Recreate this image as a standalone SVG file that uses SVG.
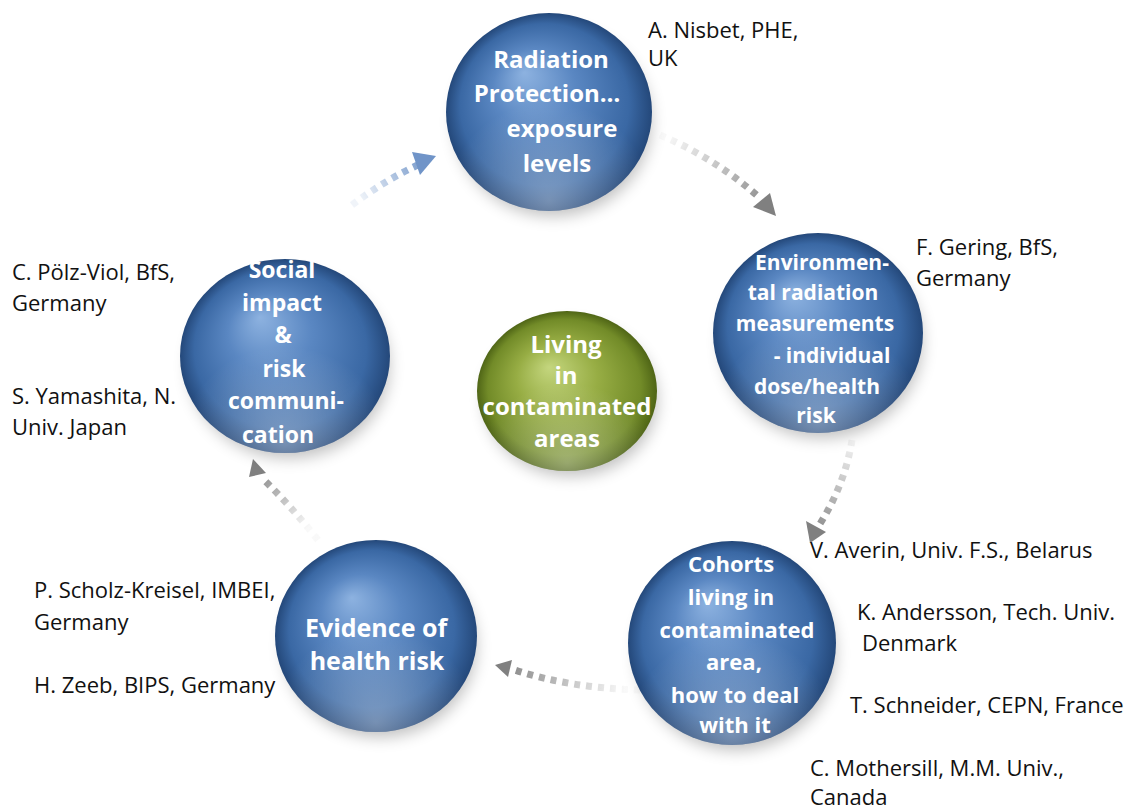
<svg xmlns="http://www.w3.org/2000/svg" width="1133" height="809" viewBox="0 0 1133 809">
<defs>
<radialGradient id="blue" cx="0.5" cy="0.5" r="0.5" fx="0.38" fy="0.3">
<stop offset="0" stop-color="#8db2e0"/>
<stop offset="0.4" stop-color="#5a87c2"/>
<stop offset="0.82" stop-color="#3a68a4"/>
<stop offset="1" stop-color="#24487a"/>
</radialGradient>
<radialGradient id="green" cx="0.5" cy="0.5" r="0.5" fx="0.4" fy="0.35">
<stop offset="0" stop-color="#c4d67e"/>
<stop offset="0.45" stop-color="#97ad44"/>
<stop offset="0.85" stop-color="#728b28"/>
<stop offset="1" stop-color="#4f6516"/>
</radialGradient>
<radialGradient id="glow" cx="0.5" cy="0.95" r="0.5">
<stop offset="0" stop-color="#ffffff" stop-opacity="0.35"/>
<stop offset="1" stop-color="#ffffff" stop-opacity="0"/>
</radialGradient>
<filter id="sh" x="-30%" y="-30%" width="160%" height="170%">
<feGaussianBlur stdDeviation="8"/>
</filter>
<filter id="bl" x="-20%" y="-20%" width="140%" height="140%">
<feGaussianBlur stdDeviation="0.6"/>
</filter>
<linearGradient id="a1" gradientUnits="userSpaceOnUse" x1="360" y1="200" x2="430" y2="160">
<stop offset="0" stop-color="#6f94c8" stop-opacity="0.1"/>
<stop offset="1" stop-color="#6f94c8" stop-opacity="1"/>
</linearGradient>
<linearGradient id="a2" gradientUnits="userSpaceOnUse" x1="665" y1="138" x2="770" y2="210">
<stop offset="0" stop-color="#888" stop-opacity="0.05"/>
<stop offset="1" stop-color="#888" stop-opacity="1"/>
</linearGradient>
<linearGradient id="a3" gradientUnits="userSpaceOnUse" x1="848" y1="435" x2="815" y2="535">
<stop offset="0" stop-color="#888" stop-opacity="0.05"/>
<stop offset="1" stop-color="#888" stop-opacity="1"/>
</linearGradient>
<linearGradient id="a4" gradientUnits="userSpaceOnUse" x1="625" y1="688" x2="505" y2="668">
<stop offset="0" stop-color="#888" stop-opacity="0.05"/>
<stop offset="1" stop-color="#888" stop-opacity="1"/>
</linearGradient>
<linearGradient id="a5" gradientUnits="userSpaceOnUse" x1="305" y1="530" x2="258" y2="470">
<stop offset="0" stop-color="#888" stop-opacity="0.05"/>
<stop offset="1" stop-color="#888" stop-opacity="1"/>
</linearGradient>
<style>
.ball{font-family:"Open Sans","Liberation Sans",sans-serif;font-weight:bold;fill:#ffffff;text-anchor:middle}
.lab{font-family:"Open Sans","Liberation Sans",sans-serif;font-size:22px;fill:#111}
.dots{fill:none;stroke-width:7;stroke-dasharray:6 6}
.shadow{fill:#000;opacity:0.25}
</style>
</defs>
<rect width="1133" height="809" fill="#ffffff"/>

<g id="connectors" filter="url(#bl)">
<path class="dots" stroke="url(#a1)" d="M352,205 Q385,180 418,165"/>
<polygon points="412,152 436,156 420,175" fill="#6f94c8"/>
<path class="dots" stroke="url(#a2)" d="M660,135 Q715,158 760,198"/>
<polygon points="753,207 770,193 776,216" fill="#808080"/>
<path class="dots" stroke="url(#a3)" d="M852,440 Q845,485 818,527"/>
<polygon points="806,521 826,532 810,543" fill="#808080"/>
<path class="dots" stroke="url(#a4)" d="M640,690 Q570,688 515,670"/>
<polygon points="495,665 512,660 508,677" fill="#808080"/>
<path class="dots" stroke="url(#a5)" d="M318,540 Q290,505 262,478"/>
<polygon points="253,459 266,473 249,477" fill="#808080"/>
</g>

<g id="n-radiation">
<ellipse class="shadow" cx="553" cy="122" rx="98" ry="94" filter="url(#sh)"/>
<ellipse cx="549" cy="112" rx="103" ry="99" fill="url(#blue)"/>
<ellipse cx="549" cy="112" rx="103" ry="99" fill="url(#glow)"/>
<text class="ball" font-size="24"><tspan x="551" y="68">Radiation</tspan><tspan x="547" y="102">Protection…</tspan><tspan x="562" y="137">exposure</tspan><tspan x="557" y="172">levels</tspan></text>
</g>

<g id="n-environmental">
<ellipse class="shadow" cx="822" cy="343" rx="100" ry="95" filter="url(#sh)"/>
<ellipse cx="818" cy="333" rx="105" ry="100" fill="url(#blue)"/>
<ellipse cx="818" cy="333" rx="105" ry="100" fill="url(#glow)"/>
<text class="ball" font-size="21"><tspan x="822" y="270">Environmen-</tspan><tspan x="813" y="300">tal radiation</tspan><tspan x="815" y="331">measurements</tspan><tspan x="832" y="363">- individual</tspan><tspan x="817" y="394">dose/health</tspan><tspan x="816" y="423">risk</tspan></text>
</g>

<g id="n-cohorts">
<ellipse class="shadow" cx="736" cy="653" rx="99" ry="97" filter="url(#sh)"/>
<ellipse cx="732" cy="643" rx="104" ry="102" fill="url(#blue)"/>
<ellipse cx="732" cy="643" rx="104" ry="102" fill="url(#glow)"/>
<text class="ball" font-size="22"><tspan x="731" y="572">Cohorts</tspan><tspan x="731" y="605">living in</tspan><tspan x="737" y="638">contaminated</tspan><tspan x="734" y="670">area,</tspan><tspan x="735" y="703">how to deal</tspan><tspan x="735" y="733">with it</tspan></text>
</g>

<g id="n-evidence">
<ellipse class="shadow" cx="380" cy="646" rx="96" ry="91" filter="url(#sh)"/>
<ellipse cx="376" cy="636" rx="101" ry="96" fill="url(#blue)"/>
<ellipse cx="376" cy="636" rx="101" ry="96" fill="url(#glow)"/>
<text class="ball" font-size="25"><tspan x="376" y="637">Evidence of</tspan><tspan x="377" y="670">health risk</tspan></text>
</g>

<g id="n-social">
<ellipse class="shadow" cx="289" cy="366" rx="100" ry="92" filter="url(#sh)"/>
<ellipse cx="285" cy="356" rx="105" ry="97" fill="url(#blue)"/>
<ellipse cx="285" cy="356" rx="105" ry="97" fill="url(#glow)"/>
<text class="ball" font-size="23"><tspan x="282" y="278">Social</tspan><tspan x="282" y="311">impact</tspan><tspan x="283" y="343">&amp;</tspan><tspan x="284" y="377">risk</tspan><tspan x="286" y="409">communi-</tspan><tspan x="278" y="443">cation</tspan></text>
</g>

<g id="n-living">
<ellipse class="shadow" cx="571" cy="400" rx="86" ry="76" filter="url(#sh)"/>
<ellipse cx="567" cy="391" rx="90" ry="80" fill="url(#green)"/>
<ellipse cx="567" cy="391" rx="90" ry="80" fill="url(#glow)"/>
<text class="ball" font-size="24"><tspan x="566" y="353">Living</tspan><tspan x="566" y="384">in</tspan><tspan x="567" y="415">contaminated</tspan><tspan x="567" y="447">areas</tspan></text>
</g>

<g id="labels">
<text class="lab"><tspan x="648" y="38">A. Nisbet, PHE,</tspan><tspan x="648" y="66">UK</tspan></text>
<text class="lab"><tspan x="916" y="255">F. Gering, BfS,</tspan><tspan x="916" y="286">Germany</tspan></text>
<text class="lab"><tspan x="12" y="280">C. Pölz-Viol, BfS,</tspan><tspan x="12" y="311">Germany</tspan></text>
<text class="lab"><tspan x="12" y="404">S. Yamashita, N.</tspan><tspan x="12" y="435">Univ. Japan</tspan></text>
<text class="lab"><tspan x="810" y="558">V. Averin, Univ. F.S., Belarus</tspan></text>
<text class="lab"><tspan x="857" y="620">K. Andersson, Tech. Univ.</tspan><tspan x="862" y="651">Denmark</tspan></text>
<text class="lab"><tspan x="850" y="713">T. Schneider, CEPN, France</tspan></text>
<text class="lab"><tspan x="810" y="776">C. Mothersill, M.M. Univ.,</tspan><tspan x="810" y="805">Canada</tspan></text>
<text class="lab"><tspan x="34" y="598">P. Scholz-Kreisel, IMBEI,</tspan><tspan x="34" y="630">Germany</tspan></text>
<text class="lab"><tspan x="34" y="693">H. Zeeb, BIPS, Germany</tspan></text>
</g>
</svg>
